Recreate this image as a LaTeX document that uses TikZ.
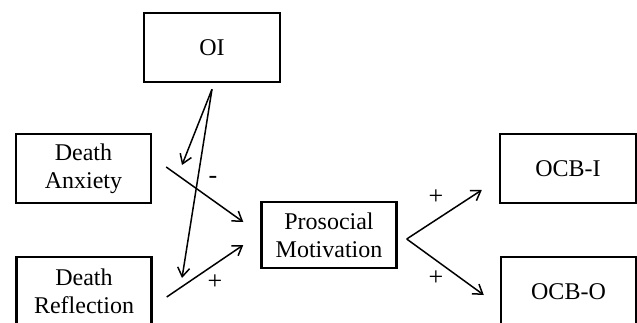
\documentclass[tikz,border=0pt]{standalone}
\usepackage{fontspec}
\setmainfont{Liberation Serif}
\usetikzlibrary{arrows.meta,calc}

\tikzset{
  varbox/.style={draw,line width=2.4pt,minimum width=135pt,minimum height=69pt,
    align=center,inner sep=0pt,font=\fontsize{24}{28}\selectfont},
  path/.style={line width=1.5pt,-{Straight Barb[length=9pt,width=12pt,line width=1.5pt]}},
  sign/.style={font=\fontsize{26}{28}\selectfont}
}

\begin{document}
\begin{tikzpicture}[x=1pt,y=1pt]
\useasboundingbox (0,0) rectangle (637,322);
\clip (0,0) rectangle (637,322);

% Variables
\node[varbox,minimum width=136pt] (OI) at (212,274.5) {OI};
\node[varbox] (DA) at (83.5,153.5) {Death\\Anxiety};
\node[varbox] (DR) at (84,30.5) {Death\\Reflection};
\node[varbox,minimum height=66pt] (PM) at (329,87) {Prosocial\\Motivation};
\node[varbox,minimum width=136pt] (OCBI) at (568,153.5) {OCB-I};
\node[varbox] (OCBO) at (568.5,30.5) {OCB-O};

% Free ends of the paths
\coordinate (oi) at ($(OI.south)+(0,-6)$);
\coordinate (ma) at (182,157);
\coordinate (mr) at (182,44);
\coordinate (da) at ($(DA.east)+(14,1.5)$);
\coordinate (dr) at ($(DR.east)+(14,-5.5)$);
\coordinate (pa) at ($(PM.west)+(-17,13)$);
\coordinate (pr) at ($(PM.west)+(-17,-10)$);
\coordinate (pm) at ($(PM.east)+(9,-4)$);
\coordinate (ci) at ($(OCBI.west)+(-17,-21.5)$);
\coordinate (co) at ($(OCBO.west)+(-16,-3.5)$);

% Moderation
\draw[path] (oi) -- (ma);
\draw[path] (oi) -- (mr);

% Main paths
\draw[path] (da) -- (pa);
\draw[path] (dr) -- (pr);
\draw[path] (pm) -- (ci);
\draw[path] (pm) -- (co);

% Signs
\node[sign] (s1) at (213,142) {-};
\node[sign] (s2) at (215,40) {+};
\node[sign] (s3) at (436,125) {+};
\node[sign] (s4) at (436,44) {+};
\end{tikzpicture}
\end{document}
